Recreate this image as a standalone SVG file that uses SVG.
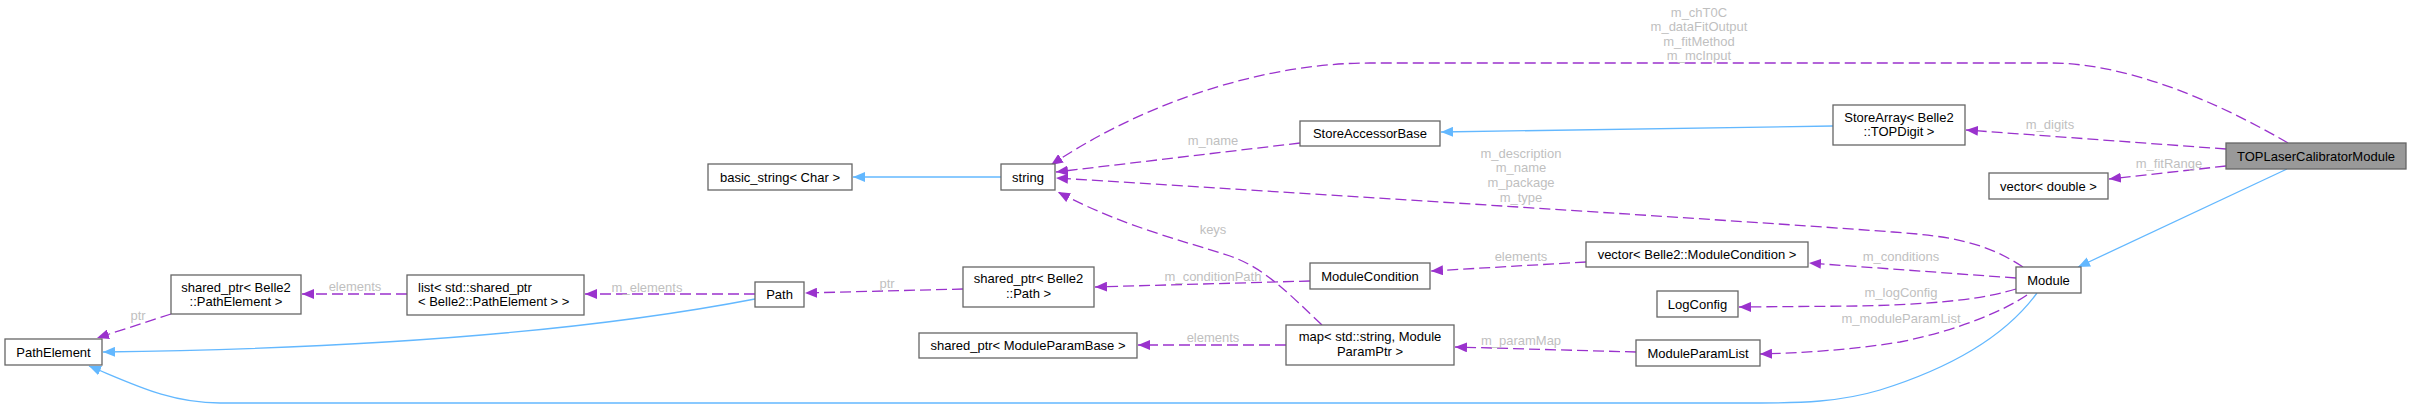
<svg xmlns="http://www.w3.org/2000/svg" width="2411" height="410" viewBox="0 0 2411 410">
<style>
.n rect{fill:#ffffff;stroke:#666666;stroke-width:1.3}
.n text{font-family:"Liberation Sans",Arial,Helvetica,sans-serif;font-size:13px;fill:#000000;text-anchor:middle}
.e path{fill:none;stroke-width:1.3}
.d{stroke:#9a32cd;stroke-dasharray:11,5}
.b{stroke:#63b8ff}
.l text{font-family:"Liberation Sans",Arial,Helvetica,sans-serif;font-size:13px;fill:#bfbfbf;text-anchor:middle}
</style>
<defs>
<marker id="ap" viewBox="0 0 12 10" refX="12" refY="5" markerWidth="12" markerHeight="10" markerUnits="userSpaceOnUse" orient="auto"><path d="M0,0 L12,5 L0,10 z" fill="#9a32cd"/></marker>
<marker id="ab" viewBox="0 0 12 10" refX="12" refY="5" markerWidth="12" markerHeight="10" markerUnits="userSpaceOnUse" orient="auto"><path d="M0,0 L12,5 L0,10 z" fill="#63b8ff"/></marker>
</defs>
<rect x="0" y="0" width="2411" height="410" fill="#ffffff"/>
<g id="edges" class="e">
<path class="d" marker-end="url(#ap)" d="M2288,143 C2240,115 2140,63 2050,63 L1370,63 C1260,63 1140,105 1051,165"/>
<path class="d" marker-end="url(#ap)" d="M2226,149 L1966,130"/>
<path class="d" marker-end="url(#ap)" d="M2226,166 L2109,179"/>
<path class="d" marker-end="url(#ap)" d="M1300,143 L1056,172"/>
<path class="d" marker-end="url(#ap)" d="M2023,267 C1985,242 1950,236 1893,232 C1760,222 1300,193 1056,178"/>
<path class="d" marker-end="url(#ap)" d="M1322,325 C1290,295 1265,268 1230,256 C1180,240 1120,225 1058,192"/>
<path class="d" marker-end="url(#ap)" d="M1310,281 L1095,287"/>
<path class="d" marker-end="url(#ap)" d="M1586,262 L1431,271"/>
<path class="d" marker-end="url(#ap)" d="M2016,278 L1809,263"/>
<path class="d" marker-end="url(#ap)" d="M2016,289 C1990,297 1950,304 1860,306 L1739,307"/>
<path class="d" marker-end="url(#ap)" d="M2027,295 C2005,310 1960,330 1900,342 C1850,350 1800,353 1760,354"/>
<path class="d" marker-end="url(#ap)" d="M1636,352 L1455,347"/>
<path class="d" marker-end="url(#ap)" d="M1286,345 L1138,345"/>
<path class="d" marker-end="url(#ap)" d="M963,289 L805,293"/>
<path class="d" marker-end="url(#ap)" d="M755,294 L585,294"/>
<path class="d" marker-end="url(#ap)" d="M407,294 L302,294"/>
<path class="d" marker-end="url(#ap)" d="M171,314 L97,338"/>
<path class="b" marker-end="url(#ab)" d="M1001,177 L853,177"/>
<path class="b" marker-end="url(#ab)" d="M1833,126 L1441,132"/>
<path class="b" marker-end="url(#ab)" d="M2287,169 L2078,267"/>
<path class="b" marker-end="url(#ab)" d="M755,299 C620,325 420,348 103,352"/>
<path class="b" marker-end="url(#ab)" d="M2037,293 C2010,330 1960,365 1880,390 C1840,402 1800,403 1760,403 L220,403 C170,403 135,385 89,366"/>
</g>
<g id="edge-labels" class="l">
<text x="1699" y="16.5">m_chT0C</text>
<text x="1699" y="31">m_dataFitOutput</text>
<text x="1699" y="45.5">m_fitMethod</text>
<text x="1699" y="60">m_mcInput</text>
<text x="2050" y="128.5">m_digits</text>
<text x="2169" y="167.5">m_fitRange</text>
<text x="1213" y="144.5">m_name</text>
<text x="1521" y="157.5">m_description</text>
<text x="1521" y="172">m_name</text>
<text x="1521" y="187">m_package</text>
<text x="1521" y="201.5">m_type</text>
<text x="1213" y="233.5">keys</text>
<text x="1213" y="280.5">m_conditionPath</text>
<text x="887" y="287.5">ptr</text>
<text x="647" y="291.5">m_elements</text>
<text x="355" y="290.5">elements</text>
<text x="138" y="319.5">ptr</text>
<text x="1521" y="260.5">elements</text>
<text x="1901" y="260.5">m_conditions</text>
<text x="1901" y="296.5">m_logConfig</text>
<text x="1901" y="322.5">m_moduleParamList</text>
<text x="1521" y="344.5">m_paramMap</text>
<text x="1213" y="341.5">elements</text>
</g>
<g id="node-TOPLaserCalibratorModule" class="n"><rect x="2226" y="143" width="180" height="26" style="fill:#999999"/><text x="2316" y="160.5">TOPLaserCalibratorModule</text></g>
<g id="node-StoreArray" class="n"><rect x="1833" y="105" width="132" height="40"/><text x="1899" y="121.5">StoreArray&lt; Belle2</text><text x="1899" y="136">::TOPDigit &gt;</text></g>
<g id="node-vector-double" class="n"><rect x="1989" y="173" width="119" height="26"/><text x="2048.5" y="190.5">vector&lt; double &gt;</text></g>
<g id="node-Module" class="n"><rect x="2016" y="267" width="65" height="26"/><text x="2048.5" y="284.5">Module</text></g>
<g id="node-StoreAccessorBase" class="n"><rect x="1300" y="121" width="140" height="25"/><text x="1370" y="138">StoreAccessorBase</text></g>
<g id="node-string" class="n"><rect x="1001" y="164" width="54" height="26"/><text x="1028" y="181.5">string</text></g>
<g id="node-basic_string" class="n"><rect x="708" y="164" width="144" height="26"/><text x="780" y="181.5">basic_string&lt; Char &gt;</text></g>
<g id="node-vector-ModuleCondition" class="n"><rect x="1586" y="242" width="222" height="25"/><text x="1697" y="259">vector&lt; Belle2::ModuleCondition &gt;</text></g>
<g id="node-ModuleCondition" class="n"><rect x="1310" y="263" width="120" height="26"/><text x="1370" y="280.5">ModuleCondition</text></g>
<g id="node-LogConfig" class="n"><rect x="1657" y="291" width="81" height="26"/><text x="1697.5" y="308.5">LogConfig</text></g>
<g id="node-ModuleParamList" class="n"><rect x="1636" y="340" width="124" height="26"/><text x="1698" y="357.5">ModuleParamList</text></g>
<g id="node-map" class="n"><rect x="1286" y="325" width="168" height="40"/><text x="1370" y="341">map&lt; std::string, Module</text><text x="1370" y="355.5">ParamPtr &gt;</text></g>
<g id="node-shared_ptr-Path" class="n"><rect x="963" y="267" width="131" height="40"/><text x="1028.5" y="283">shared_ptr&lt; Belle2</text><text x="1028.5" y="297.5">::Path &gt;</text></g>
<g id="node-shared_ptr-ModuleParamBase" class="n"><rect x="919" y="333" width="218" height="25"/><text x="1028" y="350">shared_ptr&lt; ModuleParamBase &gt;</text></g>
<g id="node-Path" class="n"><rect x="755" y="282" width="49" height="25"/><text x="779.5" y="299">Path</text></g>
<g id="node-list" class="n"><rect x="407" y="275" width="177" height="40"/><text x="418" y="291.5" style="text-anchor:start">list&lt; std::shared_ptr</text><text x="418" y="305.5" style="text-anchor:start">&lt; Belle2::PathElement &gt; &gt;</text></g>
<g id="node-shared_ptr-PathElement" class="n"><rect x="171" y="275" width="130" height="39"/><text x="236" y="291.5">shared_ptr&lt; Belle2</text><text x="236" y="305.5">::PathElement &gt;</text></g>
<g id="node-PathElement" class="n"><rect x="5" y="339" width="97" height="26"/><text x="53.5" y="356.5">PathElement</text></g>
</svg>
